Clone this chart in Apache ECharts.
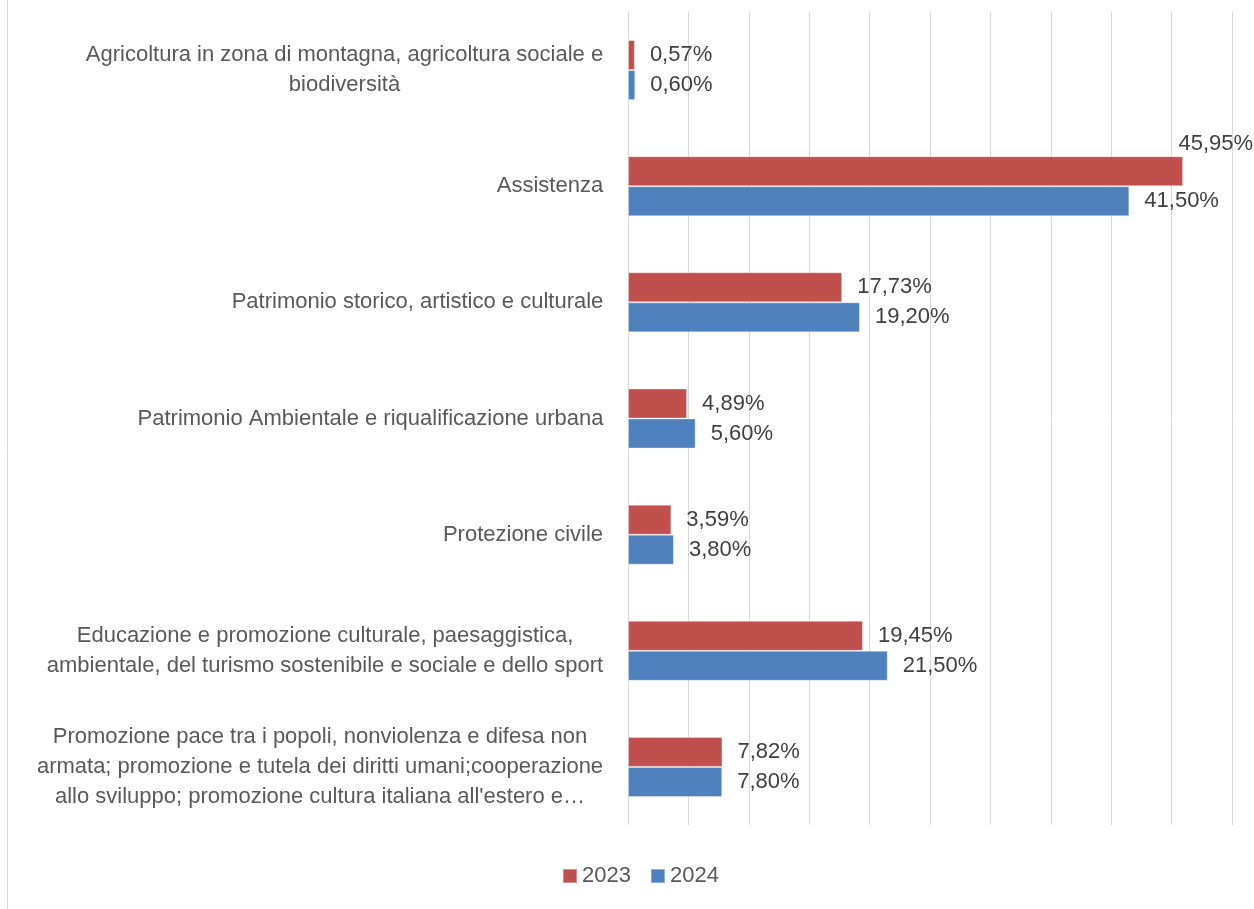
<!DOCTYPE html>
<html>
<head>
<meta charset="utf-8">
<title>Settori 2023 / 2024</title>
<script src="https://cdn.jsdelivr.net/npm/echarts@6/dist/echarts.min.js"></script>
<style>
  html, body { margin: 0; padding: 0; background: #fff; }
  #chart { width: 1254px; height: 909px; }
</style>
</head>
<body>
<div id="chart"></div>
<script>
// categorie (dall'alto in basso)
const categories = [
  "Agricoltura in zona di montagna, agricoltura sociale e\nbiodiversità",
  "Assistenza",
  "Patrimonio storico, artistico e culturale",
  "Patrimonio Ambientale e riqualificazione urbana",
  "Protezione civile",
  "Educazione e promozione culturale, paesaggistica,\nambientale, del turismo sostenibile e sociale e dello sport",
  "Promozione pace tra i popoli, nonviolenza e difesa non\narmata; promozione e tutela dei diritti umani;cooperazione\nallo sviluppo; promozione cultura italiana all'estero e…"
];
const seriesNames = ["2023", "2024"];
const values2023 = [0.57, 45.95, 17.73, 4.89, 3.59, 19.45, 7.82];
const values2024 = [0.60, 41.50, 19.20, 5.60, 3.80, 21.50, 7.80];
const xTicks = [0, 5, 10, 15, 20, 25, 30, 35, 40, 45, 50];

const FONT = '"Liberation Sans", Arial, sans-serif';
const colors = ['#C0504D', '#4F81BD'];

// larghezza del blocco di testo, per centrare le righe fra loro
const ctx = document.createElement('canvas').getContext('2d');
ctx.font = '22px ' + FONT;
const rich = {};
categories.forEach((c, i) => {
  const w = Math.max(...c.split('\n').map(l => ctx.measureText(l).width));
  rich['r' + i] = {
    width: Math.ceil(w) + 1,
    align: 'center',
    fontSize: 22,
    fontFamily: FONT,
    color: '#595959',
    lineHeight: 30
  };
});

function fmt(v) {
  return v.toFixed(2).replace('.', ',') + '%';
}

function buildData(vals, seriesIdx) {
  return vals.map((v, i) => {
    if (seriesIdx === 0 && i === 1) {
      // etichetta troppo larga: sopra la barra, allineata al bordo
      return { value: v, label: { position: 'insideTopRight', distance: 0, offset: [70, -23] } };
    }
    return v;
  });
}

const myChart = echarts.init(document.getElementById('chart'));
const option = {
  animation: false,
  textStyle: { fontFamily: FONT },
  graphic: [{
    type: 'line',
    shape: { x1: 7.5, y1: 0, x2: 7.5, y2: 909 },
    style: { stroke: '#d9d9d9', lineWidth: 1 }
  }],
  grid: { left: 628, right: 22, top: 12, bottom: 84, containLabel: false },
  legend: {
    data: seriesNames,
    top: 860,
    left: 557,
    icon: 'rect',
    itemWidth: 14,
    itemHeight: 14,
    itemGap: 19,
    textStyle: { fontSize: 22, color: '#595959', fontFamily: FONT }
  },
  xAxis: {
    type: 'value',
    min: xTicks[0],
    max: xTicks[xTicks.length - 1],
    interval: xTicks[1] - xTicks[0],
    axisLabel: { show: false },
    axisLine: { show: false },
    axisTick: { show: false },
    splitLine: { lineStyle: { color: '#d9d9d9', width: 1 } }
  },
  yAxis: {
    type: 'category',
    inverse: true,
    data: categories,
    axisLine: { show: false },
    axisTick: { show: false },
    axisLabel: {
      margin: 24,
      formatter: (val, idx) => val.split('\n').map(l => '{r' + idx + '|' + l + '}').join('\n'),
      rich: rich
    }
  },
  series: seriesNames.map((name, s) => ({
    name: name,
    type: 'bar',
    barWidth: 30,
    barGap: '0%',
    data: buildData(s === 0 ? values2023 : values2024, s),
    itemStyle: { color: colors[s], borderColor: 'rgba(255,255,255,0.35)', borderWidth: 1 },
    label: {
      show: true,
      position: 'right',
      distance: 15,
      fontSize: 22,
      fontFamily: FONT,
      color: '#404040',
      formatter: p => fmt(p.value)
    }
  }))
};
myChart.setOption(option);
</script>
</body>
</html>
